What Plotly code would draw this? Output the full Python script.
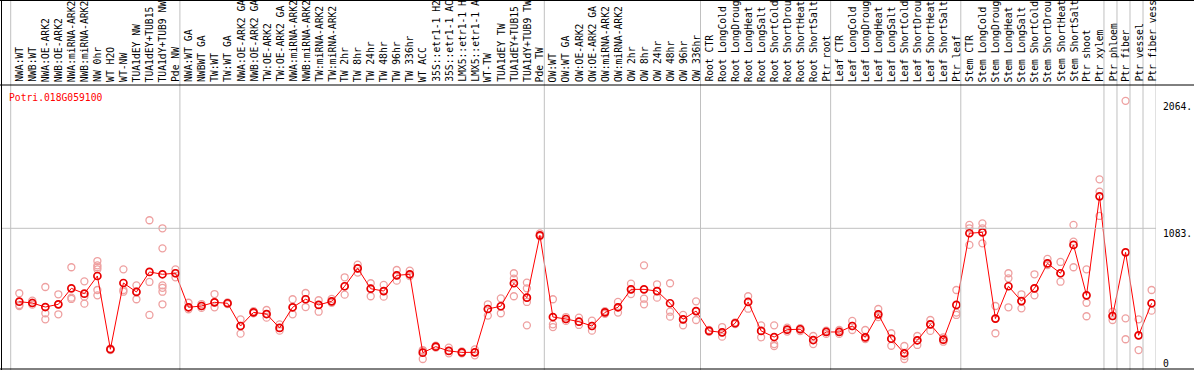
import plotly.graph_objects as go

W, H = 1194, 370

gene_id = "Potri.018G059100"

# column labels as visible in the chart (long names are cut at the top edge)
categories = [
    "NWA:WT", "NWB:WT", "NWA:OE-ARK2", "NWB:OE-ARK2", "NWA:miRNA-ARK2", "NWB:miRNA-ARK2",
    "NW 0hr", "WT H2O", "WT-NW", "TUA1dEY NW", "TUA1dEY+TUB15", "TUA1dY+TUB9 NW", "Pde NW",
    "NWA:WT GA", "NWBWT GA", "TW:WT", "TW:WT GA", "NWA:OE-ARK2 GA", "NWB:OE-ARK2 GA",
    "TW:OE-ARK2", "TW:OE-ARK2 GA", "NWA:miRNA-ARK2", "NWB:miRNA-ARK2", "TW:miRNA-ARK2",
    "TW:miRNA-ARK2", "TW 2hr", "TW 8hr", "TW 24hr", "TW 48hr", "TW 96hr", "TW 336hr",
    "WT ACC", "35S::etr1-1 H2", "35S::etr1-1 AC", "LMX5::etr1-1 H", "LMX5::etr1-1 A",
    "WT-TW", "TUA1dEY TW", "TUA1dEY+TUB15", "TUA1dY+TUB9 TW", "Pde TW",
    "OW:WT", "OW:WT GA", "OW:OE-ARK2", "OW:OE-ARK2 GA", "OW:miRNA-ARK2", "OW:miRNA-ARK2",
    "OW 2hr", "OW 8hr", "OW 24hr", "OW 48hr", "OW 96hr", "OW 336hr",
    "Root CTR", "Root LongCold", "Root LongDroug", "Root LongHeat", "Root LongSalt",
    "Root ShortCold", "Root ShortDrou", "Root ShortHeat", "Root ShortSalt", "Ptr root",
    "Leaf CTR", "Leaf LongCold", "Leaf LongDroug", "Leaf LongHeat", "Leaf LongSalt",
    "Leaf ShortCold", "Leaf ShortDrou", "Leaf ShortHeat", "Leaf ShortSalt", "Ptr leaf",
    "Stem CTR", "Stem LongCold", "Stem LongDroug", "Stem LongHeat", "Stem LongSalt",
    "Stem ShortCold", "Stem ShortDrou", "Stem ShortHeat", "Stem ShortSalt", "Ptr shoot",
    "Ptr xylem", "Ptr phloem", "Ptr fiber", "Ptr vessel", "Ptr fiber vess",
]

# column indices where a group separator line is drawn (before that column)
group_starts = [0, 13, 41, 53, 63, 73, 84, 85, 86, 87, 88]

mean_values = [
    518, 508, 477, 498, 621, 580, 716, 152, 662, 593, 747, 729, 737,
    475, 485, 513, 506, 331, 436, 423, 316, 475, 537, 493, 521, 637, 775, 618, 600, 721, 729,
    126, 172, 139, 128, 128, 462, 483, 660, 549, 1029,
    400, 385, 364, 331, 436, 475, 613, 613, 600, 506, 382, 446,
    293, 282, 352, 516, 293, 246, 303, 306, 223, 285,
    285, 331, 244, 421, 233, 121, 221, 344, 226, 493,
    1045, 1052, 388, 637, 523, 621, 813, 737, 955, 567, 1329,
    408, 898, 259, 506,
]

replicate_values = [
    [583, 493, 485], [526, 510, 495], [631, 429, 382], [575, 498, 421], [783, 549, 539],
    [675, 557, 503], [831, 798, 783, 767, 608, 567], [158, 152, 146], [767, 608, 595],
    [644, 598, 537], [1145, 670, 416], [1083, 929, 644, 625, 595, 498], [767, 737, 706],
    [510, 475, 460], [500, 485, 470], [577, 513, 475], [512, 506, 500], [382, 331, 272],
    [446, 436, 429], [454, 423, 395], [344, 316, 295], [537, 475, 421], [585, 537, 477],
    [529, 493, 441], [539, 521, 510], [706, 637, 572], [803, 775, 742], [660, 618, 560],
    [647, 600, 557], [762, 721, 680], [757, 729, 715], [146, 140, 77], [180, 172, 164],
    [164, 139, 121], [135, 128, 121], [151, 128, 105], [498, 462, 411], [544, 483, 429],
    [737, 695, 560], [665, 621, 549, 516, 336], [1044, 1029, 1021],
    [537, 344, 323], [400, 385, 370], [395, 364, 339], [372, 331, 295], [446, 436, 425],
    [516, 475, 434], [657, 613, 577], [798, 541, 498], [652, 600, 549], [660, 441, 403],
    [416, 382, 336], [521, 446, 377],
    [300, 293, 286], [323, 282, 249], [358, 352, 346], [560, 516, 464], [336, 293, 244],
    [336, 192, 177], [318, 303, 288], [315, 306, 292], [254, 223, 192], [295, 285, 270],
    [300, 285, 270], [370, 331, 300], [300, 244, 230], [462, 421, 400], [275, 233, 179],
    [177, 100, 77], [254, 221, 185], [377, 344, 293], [244, 226, 210], [608, 434, 416],
    [1109, 1083, 955], [1121, 1083, 967], [485, 388, 275], [737, 698, 475], [575, 523, 467],
    [729, 621, 567], [847, 813, 800], [824, 737, 672], [1109, 980, 783], [767, 510, 406],
    [1460, 1365, 1178],
    [441, 408, 377], [2064, 390, 229], [382, 259, 146], [608, 506, 449],
]

y_tick_values = [2064, 1083, 0]
y_tick_labels = ["2064.", "1083.", "0"]
grid_value = 1083

# ---- layout geometry (pixels) ----
plot_left, plot_right, plot_top, plot_bottom = 1, 1156, 85, 369
col_w = 13.015
first_center = 19.3
x_min = -(first_center - plot_left) / col_w
x_max = x_min + (plot_right - plot_left) / col_w
y_max = 2186

def px(xp):
    return xp / W

def py(yp):
    return (H - yp) / H

fig = go.Figure()

rx, ry = [], []
for i, reps in enumerate(replicate_values):
    for v in reps:
        rx.append(i)
        ry.append(v)

fig.add_trace(go.Scatter(
    x=rx, y=ry, mode="markers", hoverinfo="skip",
    marker=dict(symbol="circle-open", size=7, color="#eea0a0", line=dict(width=1.3)),
))
fig.add_trace(go.Scatter(
    x=list(range(len(mean_values))), y=mean_values, mode="lines+markers",
    line=dict(color="#ff0000", width=1),
    marker=dict(symbol="circle-open", size=7, color="#e80000", line=dict(width=1.7)),
))

shapes = []
off = (first_center - 10.7) / col_w
for k in group_starts:
    shapes.append(dict(type="line", xref="x", yref="paper", x0=k - off, x1=k - off,
                       y0=0, y1=1, line=dict(color="#c0c0c0", width=1)))
shapes.append(dict(type="line", xref="paper", yref="y", x0=px(plot_left), x1=px(plot_right),
                   y0=grid_value, y1=grid_value, line=dict(color="#c0c0c0", width=1)))
for yy in [0.5, plot_top, plot_bottom]:
    shapes.append(dict(type="line", xref="paper", yref="paper", x0=0, x1=1,
                       y0=py(yy), y1=py(yy), line=dict(color="black", width=1)))
shapes.append(dict(type="line", xref="paper", yref="paper", x0=px(1.5), x1=px(1.5),
                   y0=0, y1=1, line=dict(color="black", width=1)))

annotations = []
mono = "DejaVu Sans Mono"
for i, lab in enumerate(categories):
    annotations.append(dict(
        x=i, xref="x", y=py(83), yref="paper", text=lab, showarrow=False,
        textangle=-90, xanchor="center", yanchor="bottom", borderpad=0,
        font=dict(family=mono, size=9.7, color="black"),
    ))
annotations.append(dict(
    x=px(8), xref="paper", y=py(91), yref="paper", text=gene_id, showarrow=False,
    xanchor="left", yanchor="top", borderpad=0,
    font=dict(family=mono, size=9.7, color="#ff0000"),
))
for v, t in zip(y_tick_values, y_tick_labels):
    ypix = plot_bottom - (v / y_max) * (plot_bottom - plot_top)
    ypix = min(ypix, plot_bottom - 11)
    annotations.append(dict(
        x=px(1162), xref="paper", y=py(ypix - 1), yref="paper", text=t, showarrow=False,
        xanchor="left", yanchor="top", borderpad=0,
        font=dict(family=mono, size=9.7, color="black"),
    ))

fig.update_layout(
    width=W, height=H, margin=dict(l=0, r=0, t=0, b=0),
    paper_bgcolor="white", plot_bgcolor="white", showlegend=False,
    xaxis=dict(range=[x_min, x_max], domain=[px(plot_left), px(plot_right)],
               showgrid=False, zeroline=False, showticklabels=False, fixedrange=True),
    yaxis=dict(range=[0, y_max], domain=[py(plot_bottom), py(plot_top)],
               showgrid=False, zeroline=False, showticklabels=False, fixedrange=True),
    shapes=shapes, annotations=annotations,
)

fig.write_html(
    "out.html",
    config={"displayModeBar": False},
    post_script="document.body.style.margin='0';document.body.style.overflow='hidden';",
)
